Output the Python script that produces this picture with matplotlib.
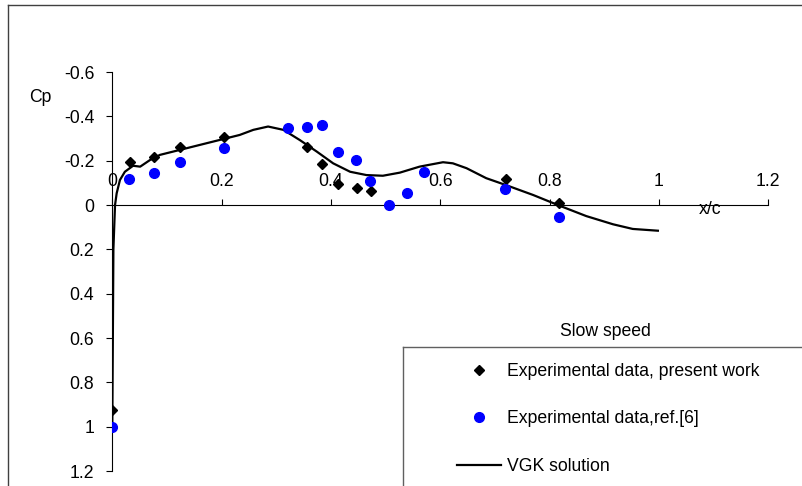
import matplotlib
matplotlib.use("Agg")
import matplotlib.pyplot as plt
from matplotlib.lines import Line2D

FS = 12.7
plt.rcParams['font.family'] = ['Liberation Sans', 'DejaVu Sans']
plt.rcParams['font.size'] = FS

# Experimental data, present work (black diamonds)
exp_x = [0.0, 0.032, 0.076, 0.124, 0.205, 0.357, 0.383, 0.413, 0.447, 0.473, 0.720, 0.818]
exp_cp = [0.925, -0.195, -0.218, -0.263, -0.308, -0.263, -0.185, -0.095, -0.075, -0.065, -0.117, -0.008]

# Experimental data, ref.[6] (blue circles)
ref_x = [0.0, 0.031, 0.076, 0.124, 0.205, 0.322, 0.357, 0.383, 0.412, 0.446, 0.472, 0.506,
         0.539, 0.570, 0.719, 0.817]
ref_cp = [1.0, -0.116, -0.146, -0.193, -0.256, -0.349, -0.354, -0.361, -0.241, -0.202, -0.110, 0.0,
          -0.056, -0.148, -0.071, 0.053]

# VGK solution (line)
vgk_x = [0.0, 0.001, 0.002, 0.005, 0.008, 0.014, 0.023, 0.038, 0.051, 0.069, 0.087, 0.16,
         0.233, 0.258, 0.285, 0.313, 0.343, 0.374, 0.404, 0.435, 0.465, 0.495, 0.526, 0.562,
         0.605, 0.623, 0.648, 0.684, 0.720, 0.770, 0.818, 0.867, 0.916, 0.952, 0.998]
vgk_cp = [1.0, 0.6, 0.2, 0.0, -0.053, -0.113, -0.15, -0.177, -0.173, -0.203, -0.226, -0.271,
          -0.316, -0.339, -0.354, -0.339, -0.293, -0.241, -0.188, -0.150, -0.135, -0.132, -0.146, -0.173,
          -0.193, -0.188, -0.166, -0.121, -0.090, -0.045, 0.003, 0.050, 0.087, 0.108, 0.116]

x_ticks = [0, 0.2, 0.4, 0.6, 0.8, 1.0, 1.2]
x_tick_labels = ['0', '0.2', '0.4', '0.6', '0.8', '1', '1.2']
y_ticks = [-0.6, -0.4, -0.2, 0, 0.2, 0.4, 0.6, 0.8, 1.0, 1.2]
y_tick_labels = ['-0.6', '-0.4', '-0.2', '0', '0.2', '0.4', '0.6', '0.8', '1', '1.2']

W, H = 803, 486
fig = plt.figure(figsize=(W / 100, H / 100), dpi=100)

# axes placement in pixels
ax_left, ax_right = 112.3, 768.3
ax_top, ax_bot = 72.0, 471.0
ax = fig.add_axes([ax_left / W, (H - ax_bot) / H, (ax_right - ax_left) / W, (ax_bot - ax_top) / H])

ax.plot(vgk_x, vgk_cp, color='black', lw=1.6, label='VGK solution', zorder=2)
ax.plot(exp_x, exp_cp, 'D', color='black', ms=5.5, label='Experimental data, present work', zorder=3)
ax.plot(ref_x, ref_cp, 'o', color='#0000ff', ms=7, label='Experimental data,ref.[6]', zorder=3)

ax.set_xlim(0, 1.2)
ax.set_ylim(1.2, -0.6)

for s in ['right', 'bottom']:
    ax.spines[s].set_visible(False)
ax.spines['top'].set_position(('data', 0))
ax.spines['left'].set_position(('data', 0))
ax.spines['top'].set_linewidth(0.8)
ax.spines['left'].set_linewidth(0.8)

ax.xaxis.set_ticks_position('top')
ax.set_xticks(x_ticks)
ax.set_xticklabels(x_tick_labels)
ax.set_yticks(y_ticks)
ax.set_yticklabels(y_tick_labels)
ax.tick_params(axis='x', direction='out', length=4, width=0.8, pad=7, labelsize=FS)
ax.tick_params(axis='y', direction='out', length=4, width=0.8, pad=9, labelsize=FS)
ax.set_facecolor('none')

fig.text(40 / W, 1 - 98 / H, 'Cp', ha='center', va='center', fontsize=FS)
fig.text(710 / W, 1 - 210 / H, 'x/c', ha='center', va='center', fontsize=FS)

# outer chart border
border = '#404040'
fig.add_artist(Line2D([8 / W, 8 / W], [0, 1 - 5 / H], color=border, lw=1.0, transform=fig.transFigure))
fig.add_artist(Line2D([8 / W, 1], [1 - 5 / H, 1 - 5 / H], color=border, lw=1.0, transform=fig.transFigure))

# legend box
lb = '#606060'
fig.add_artist(Line2D([403 / W, 403 / W], [0, 1 - 347 / H], color=lb, lw=1.0, transform=fig.transFigure))
fig.add_artist(Line2D([403 / W, 1], [1 - 347 / H, 1 - 347 / H], color=lb, lw=1.0, transform=fig.transFigure))
fig.text(605 / W, 1 - 331 / H, 'Slow speed', ha='center', va='center', fontsize=FS)

handles, labels = ax.get_legend_handles_labels()
order = [1, 2, 0]
leg = fig.legend([handles[i] for i in order], [labels[i] for i in order],
                 loc='upper left', bbox_to_anchor=(457 / W, 1 - 363 / H),
                 frameon=False, borderpad=0, borderaxespad=0,
                 handlelength=44 / (FS * 100 / 72), handletextpad=6 / (FS * 100 / 72),
                 labelspacing=1.72, fontsize=FS)

fig.savefig('out.png', dpi=100)
